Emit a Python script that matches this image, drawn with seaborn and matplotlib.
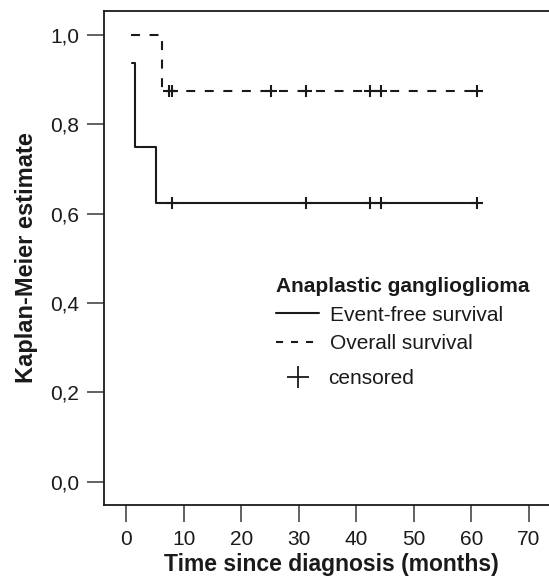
import numpy as np
import pandas as pd
import matplotlib
matplotlib.use("Agg")
import matplotlib.pyplot as plt
from matplotlib.lines import Line2D
import seaborn as sns

# Kaplan-Meier step curves (time in months, estimate)
efs_time = [1.0, 1.6, 5.2, 60.9]
efs_surv = [0.9375, 0.75, 0.625, 0.625]
os_time = [0.9, 6.2, 60.9]
os_surv = [1.0, 0.875, 0.875]

# censored observations
efs_cens_time = [7.9, 31.3, 42.3, 44.3, 60.9]
os_cens_time = [7.5, 7.9, 25.1, 31.3, 42.3, 44.3, 60.9]

x_ticks = [0, 10, 20, 30, 40, 50, 60, 70]
y_ticks = [0.0, 0.2, 0.4, 0.6, 0.8, 1.0]
y_tick_labels = ["0,0", "0,2", "0,4", "0,6", "0,8", "1,0"]

sns.set_style("ticks")
plt.rcParams['font.family'] = ['Liberation Sans', 'DejaVu Sans']

INK = '#1a1a1a'

curves = pd.DataFrame({
    'time': efs_time + os_time,
    'estimate': efs_surv + os_surv,
    'curve': ['Event-free survival'] * len(efs_time) + ['Overall survival'] * len(os_time),
})
cens = pd.DataFrame({
    'time': efs_cens_time + os_cens_time,
    'estimate': [efs_surv[-1]] * len(efs_cens_time) + [os_surv[-1]] * len(os_cens_time),
})

fig = plt.figure(figsize=(5.49, 5.77), dpi=100)
ax = fig.add_axes([0.19, 0.125, 0.826, 0.856])

sns.lineplot(data=curves, x='time', y='estimate', style='curve',
             dashes={'Event-free survival': '', 'Overall survival': (4.3, 4.6)},
             color=INK, linewidth=1.5, estimator=None, sort=False,
             drawstyle='steps-post', legend=False, ax=ax)
ax.plot(cens['time'], cens['estimate'], linestyle='none', marker='+',
        markersize=8, markeredgewidth=1.5, color=INK)

ax.set_xlim(-3.8, 75)
ax.set_ylim(-0.052, 1.054)
ax.set_xticks(x_ticks)
ax.set_yticks(y_ticks)
ax.set_yticklabels(y_tick_labels)
ax.tick_params(axis='both', labelsize=15, length=12, width=1.3,
               color='#555555', pad=6, labelcolor=INK)

for side in ['left', 'bottom', 'top']:
    ax.spines[side].set_color(INK)
    ax.spines[side].set_linewidth(1.3)
ax.spines['right'].set_visible(False)

ax.set_xlabel('Time since diagnosis (months)', fontsize=16.5, fontweight='bold',
              labelpad=3, color=INK)
ax.set_ylabel('Kaplan-Meier estimate', fontsize=17, fontweight='bold',
              labelpad=9, color=INK)

line_handles = [
    Line2D([], [], color=INK, linewidth=1.5),
    Line2D([], [], color=INK, linewidth=1.5, dashes=(3.4, 3.8)),
]
leg = ax.legend(line_handles, ['Event-free survival', 'Overall survival'],
                title='Anaplastic ganglioglioma',
                loc='upper left', bbox_to_anchor=(0.378, 0.461),
                frameon=False, fontsize=15, borderpad=0, borderaxespad=0,
                handlelength=2.1, handletextpad=0.5, labelspacing=0.45,
                alignment='left',
                title_fontproperties={'weight': 'bold', 'size': 15})
for t in leg.get_texts():
    t.set_color(INK)
leg.get_title().set_color(INK)
ax.add_artist(leg)

cens_handle = [Line2D([], [], color=INK, linestyle='none', marker='+',
                      markersize=16, markeredgewidth=1.3)]
leg2 = ax.legend(cens_handle, ['censored'], loc='upper left',
                 bbox_to_anchor=(0.378, 0.275), frameon=False, fontsize=15,
                 borderpad=0, borderaxespad=0, handlelength=2.1,
                 handletextpad=0.4)
for t in leg2.get_texts():
    t.set_color(INK)

fig.savefig('out.png', dpi=100)
